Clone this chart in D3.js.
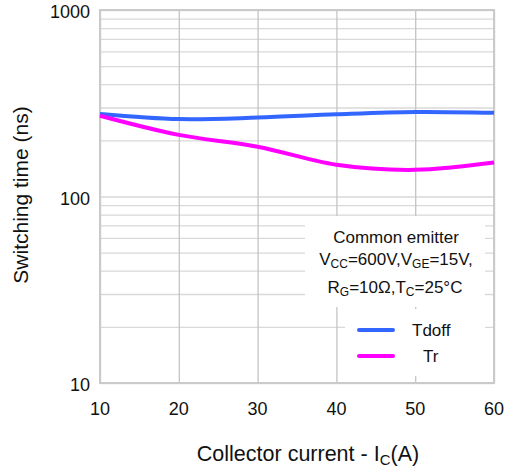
<!DOCTYPE html>
<html>
<head>
<meta charset="utf-8">
<script src="https://cdn.jsdelivr.net/npm/d3@7"></script>
<style>
    body { margin: 0; background: #fff; }
    text { font-family: "Liberation Sans", Arial, sans-serif; fill: #111; }
</style>
</head>
<body>
<div id="chart-area"></div>
<script>
// switching time vs collector current

var current = [10, 20, 30, 40, 50, 60];
var tdoff = [277, 260, 265, 276, 284, 281];
var tr = [271, 214, 185, 148, 139, 152];
var xTicks = [10, 20, 30, 40, 50, 60];
var yLabels = [10, 100, 1000];

var margin = { left:100, right:11, top:10, bottom:88 };

var width = 505 - margin.left - margin.right;
var height = 471 - margin.top - margin.bottom;

var svg = d3.select("#chart-area")
    .append("svg")
        .attr("width", 505)
        .attr("height", 471);

var g = svg.append("g")
        .attr("transform", "translate(" + margin.left + ", " + margin.top + ")");

var x = d3.scaleLinear()
    .domain([10, 60])
    .range([0, width]);

var y = d3.scaleLog()
    .domain([10, 1000])
    .range([height, 0]);

// horizontal grid (every 1..9 of each decade)
g.append("g")
    .attr("class", "h-grid")
    .call(d3.axisLeft(y).tickValues(y.ticks()).tickSize(-width).tickFormat(""))
    .call(function(s){ s.select(".domain").remove(); })
    .selectAll("line")
        .attr("stroke", "#d9d9d9")
        .attr("stroke-width", 1.3);

// vertical grid
g.append("g")
    .attr("class", "v-grid")
    .attr("transform", "translate(0," + height + ")")
    .call(d3.axisBottom(x).tickValues(xTicks).tickSize(-height).tickFormat(""))
    .call(function(s){ s.select(".domain").remove(); })
    .selectAll("line")
        .attr("stroke", "#c4c4c4")
        .attr("stroke-width", 1.3);

// annotation boxes hide the grid under them
g.append("rect")
    .attr("x", 205).attr("y", 206)
    .attr("width", 180).attr("height", 91)
    .attr("fill", "#fff");
g.append("rect")
    .attr("x", 245).attr("y", 299)
    .attr("width", 140).attr("height", 67)
    .attr("fill", "#fff");

// frame
g.append("rect")
    .attr("width", width)
    .attr("height", height)
    .attr("fill", "none")
    .attr("stroke", "#cacaca")
    .attr("stroke-width", 2);

// tick labels
g.selectAll(".y-label")
    .data(yLabels)
    .enter()
    .append("text")
        .attr("class", "y-label")
        .attr("x", -10)
        .attr("y", function(d){ return y(d) + 8; })
        .attr("text-anchor", "end")
        .style("font-size", "18px")
        .text(function(d){ return d; });

g.selectAll(".x-label")
    .data(xTicks)
    .enter()
    .append("text")
        .attr("class", "x-label")
        .attr("x", function(d){ return x(d); })
        .attr("y", height + 32)
        .attr("text-anchor", "middle")
        .style("font-size", "18px")
        .text(function(d){ return d; });

// axis titles
var xt = svg.append("text")
    .attr("x", 308)
    .attr("y", 461)
    .attr("text-anchor", "middle")
    .style("font-size", "21.5px");
xt.append("tspan").text("Collector current - I");
xt.append("tspan").attr("dy", 4).style("font-size", "15px").text("C");
xt.append("tspan").attr("dy", -4).text("(A)");

svg.append("text")
    .attr("transform", "rotate(-90)")
    .attr("x", -195)
    .attr("y", 28)
    .attr("text-anchor", "middle")
    .style("font-size", "21px")
    .text("Switching time (ns)");

// curves
var line = d3.line()
    .x(function(d){ return x(d[0]); })
    .y(function(d){ return y(d[1]); })
    .curve(d3.curveCatmullRom.alpha(0.5));

var series = [
    { name: "Tdoff", values: tdoff, color: "#3366ff" },
    { name: "Tr", values: tr, color: "#ff00ff" }
];

g.selectAll(".curve")
    .data(series)
    .enter()
    .append("path")
        .attr("class", "curve")
        .attr("fill", "none")
        .attr("stroke", function(d){ return d.color; })
        .attr("stroke-width", 4)
        .attr("d", function(d){
            return line(current.map(function(c, i){ return [c, d.values[i]]; }));
        });

// condition text
var note = svg.append("g").attr("text-anchor", "middle").style("font-size", "17px");
note.append("text").attr("x", 396).attr("y", 243).text("Common emitter");

var l2 = note.append("text").attr("x", 396).attr("y", 265);
l2.append("tspan").text("V");
l2.append("tspan").attr("dy", 3).style("font-size", "12px").text("CC");
l2.append("tspan").attr("dy", -3).text("=600V,V");
l2.append("tspan").attr("dy", 3).style("font-size", "12px").text("GE");
l2.append("tspan").attr("dy", -3).text("=15V,");

var l3 = note.append("text").attr("x", 395).attr("y", 293);
l3.append("tspan").text("R");
l3.append("tspan").attr("dy", 3).style("font-size", "12px").text("G");
l3.append("tspan").attr("dy", -3).text("=10\u03A9,T");
l3.append("tspan").attr("dy", 3).style("font-size", "12px").text("C");
l3.append("tspan").attr("dy", -3).text("=25\u00B0C");

// legend
var legend = svg.selectAll(".legend")
    .data(series)
    .enter()
    .append("g")
        .attr("class", "legend")
        .attr("transform", function(d, i){ return "translate(359," + (330 + i * 26) + ")"; });

legend.append("line")
    .attr("x1", 0).attr("x2", 34)
    .attr("stroke", function(d){ return d.color; })
    .attr("stroke-width", 4)
    .attr("stroke-linecap", "round");

legend.append("text")
    .attr("x", function(d, i){ return i == 0 ? 53 : 64; })
    .attr("y", 6)
    .style("font-size", "17px")
    .text(function(d){ return d.name; });
</script>
</body>
</html>
